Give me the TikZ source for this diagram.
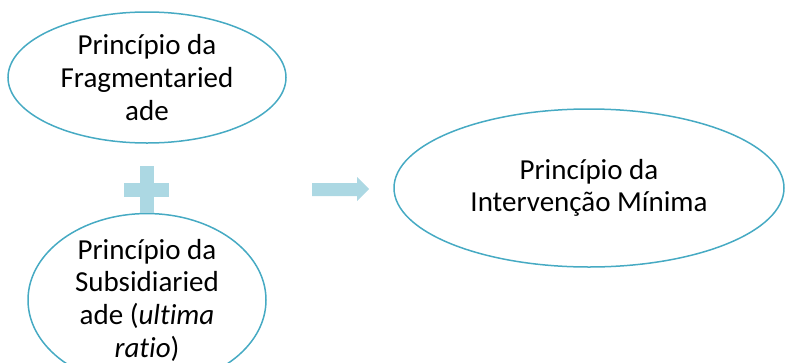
\documentclass[tikz,border=0pt]{standalone}
\usepackage{fontspec}
\setmainfont[Ligatures={NoCommon}]{Carlito}
\usetikzlibrary{shapes.geometric}
\definecolor{ringc}{RGB}{70,170,195}
\definecolor{softc}{RGB}{172,216,227}
\tikzset{
  oval/.style={ellipse, draw=ringc, line width=1.5pt, inner sep=0pt, align=center,
    font=\fontsize{29}{32.7}\selectfont, text=black},
  softshape/.style={fill=softc, draw=none}
}
\begin{document}
\begin{tikzpicture}[x=1pt,y=-1pt]
\useasboundingbox (0,0) rectangle (786,362);
\node[oval, minimum width=278pt, minimum height=131pt] (frag) at (147,77.5)
  {Princípio da\\Fragmentaried\\ade};
\node[oval, minimum width=238pt, minimum height=126pt] (subs) at (147,300)
  {Princípio da\\Subsidiaried\\ade (\textit{ultima}\\\textit{ratio})};
\node[oval, minimum width=390pt, minimum height=158pt] (minima) at (589,188)
  {Princípio da\\Intervenção Mínima};
% plus sign
\fill[softshape] (124,183) rectangle (169,197);
\fill[softshape] (140,166) rectangle (154,213);
% block arrow
\fill[softshape] (312,183) -- (357,183) -- (357,177) -- (369,189) -- (357,201) -- (357,196) -- (312,196) -- cycle;
\end{tikzpicture}
\end{document}
